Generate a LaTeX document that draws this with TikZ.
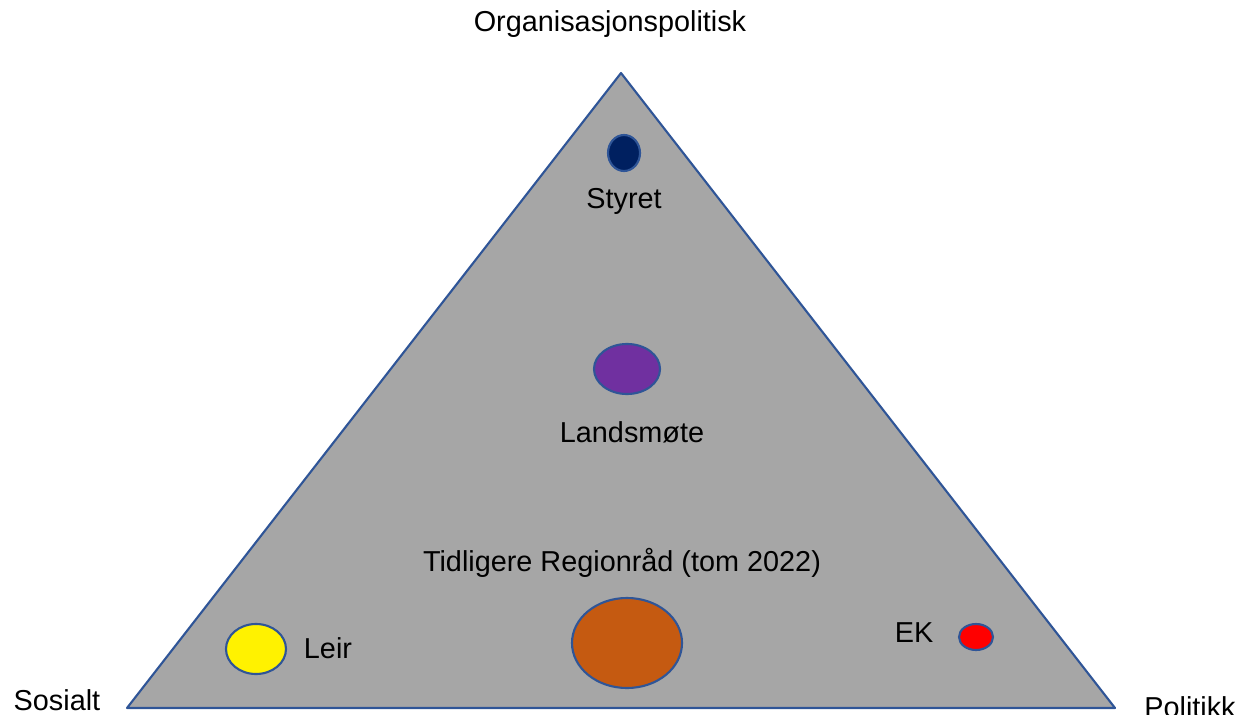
\documentclass[tikz,border=0pt]{standalone}
\usepackage{fontspec}
\setmainfont{Liberation Sans}
\usepackage{tikz}
\usetikzlibrary{shapes}
\usetikzlibrary{positioning}

\definecolor{fillgray}{HTML}{A6A6A6}
\definecolor{edgeblue}{HTML}{2F5597}
\definecolor{navy}{HTML}{002060}
\definecolor{violet}{HTML}{7030A0}
\definecolor{rust}{HTML}{C55A11}

\tikzset{
    txt/.style={font=\fontsize{20.5}{22}\selectfont, inner sep=0pt},
    blob/.style={draw=edgeblue, line width=1.5pt, ellipse, inner sep=0pt}
}

\begin{document}
\begin{tikzpicture}[x=0.025cm, y=-0.025cm]
    \useasboundingbox (0,0) rectangle (1240,715);
    \coordinate (top) at (621,73);
    \coordinate (left) at (127,708);
    \coordinate (right) at (1115,708);
    \fill[fillgray] (top) -- (left) -- (right) -- cycle;
    \draw[edgeblue, line width=1.5pt, line join=round] (top) -- (left) -- (right) -- cycle;

    \node (org) at (610,24) [txt] {Organisasjonspolitisk};
    \node (sos) at (57,700) [txt] {Sosialt};
    \node (pol) at (1190,707) [txt] {Politikk};

    \node (styret) at (624,153) [blob, fill=navy, minimum width=0.8cm, minimum height=0.9cm] {};
    \node (styrettxt) at (624,201) [txt] {Styret};
    \node (lm) at (627,369) [blob, fill=violet, minimum width=1.65cm, minimum height=1.25cm] {};
    \node (lmtxt) at (632,432) [txt] {Landsmøte};
    \node (rr) at (627,643) [blob, fill=rust, minimum width=2.75cm, minimum height=2.25cm] {};
    \node (rrtxt) at (622,563) [txt] {Tidligere Regionråd (tom 2022)};
    \node (leir) at (256,649) [blob, fill=yellow, minimum width=1.5cm, minimum height=1.25cm] {};
    \node (leirtxt) at (328,648) [txt] {Leir};
    \node (ek) at (976,637) [blob, fill=red, minimum width=0.85cm, minimum height=0.65cm] {};
    \node (ektxt) at (914,633) [txt] {EK}; % labels sit beside their ellipses
\end{tikzpicture}
\end{document}
